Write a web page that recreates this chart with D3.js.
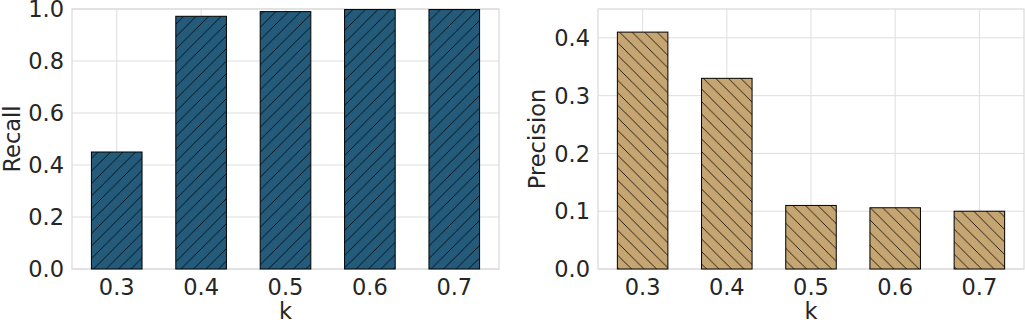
<!DOCTYPE html>
<html>
<head>
<meta charset="utf-8">
<script src="https://cdn.jsdelivr.net/npm/d3@7"></script>
<style>
  body { margin: 0; background: #fff; }
  svg { display: block; font-family: "DejaVu Sans", sans-serif; }
</style>
</head>
<body>
<script>
'use strict';

const kValues = ['0.3', '0.4', '0.5', '0.6', '0.7']
const recall = [0.45, 0.972, 0.99, 0.998, 0.998]
const precision = [0.41, 0.33, 0.11, 0.106, 0.10]
const recallTicks = [0, 0.2, 0.4, 0.6, 0.8, 1.0]
const precisionTicks = [0, 0.1, 0.2, 0.3, 0.4]

const m = { width: 1025, height: 326, top: 9, bottom: 269 }
const fontSize = '22.5px'

const svg = d3.select('body').append('svg')
  .attr('width', m.width)
  .attr('height', m.height)

const defs = svg.append('defs')

function makeHatch(id, color, forward) {
  const w = 12.5
  const p = defs.append('pattern')
    .attr('id', id)
    .attr('patternUnits', 'userSpaceOnUse')
    .attr('width', w)
    .attr('height', w)
  p.append('rect').attr('width', w).attr('height', w).attr('fill', color)
  const d = forward
    ? `M0,${w} L${w},0 M${-w/4},${w/4} L${w/4},${-w/4} M${3*w/4},${5*w/4} L${5*w/4},${3*w/4}`
    : `M0,0 L${w},${w} M${-w/4},${3*w/4} L${w/4},${5*w/4} M${3*w/4},${-w/4} L${5*w/4},${w/4}`
  p.append('path').attr('d', d).attr('stroke', '#000').attr('stroke-width', 0.8)
}

makeHatch('hatchBlue', '#245b7b', true)
makeHatch('hatchTan', '#c5a572', false)

function drawPanel(opts) {
  const g = svg.append('g')

  const xScale = d3.scaleLinear()
    .domain([-0.53, kValues.length - 1 + 0.53])
    .range([opts.left, opts.right])

  const yScale = d3.scaleLinear()
    .domain([0, opts.yMax])
    .range([m.bottom, m.top])

  // grid
  g.append('g').selectAll('line.gy')
    .data(opts.ticks)
    .join('line')
      .attr('x1', opts.left).attr('x2', opts.right)
      .attr('y1', (d) => yScale(d)).attr('y2', (d) => yScale(d))
      .attr('stroke', '#dedede').attr('stroke-width', 1)

  g.append('g').selectAll('line.gx')
    .data(kValues)
    .join('line')
      .attr('x1', (d, i) => xScale(i)).attr('x2', (d, i) => xScale(i))
      .attr('y1', m.top).attr('y2', m.bottom)
      .attr('stroke', '#dedede').attr('stroke-width', 1)

  // frame
  g.append('rect')
    .attr('x', opts.left).attr('y', m.top)
    .attr('width', opts.right - opts.left).attr('height', m.bottom - m.top)
    .attr('fill', 'none').attr('stroke', '#d9d9d9').attr('stroke-width', 1.2)

  // bars
  const bw = xScale(0.6) - xScale(0)
  g.append('g').selectAll('rect')
    .data(opts.values)
    .join('rect')
      .attr('x', (d, i) => xScale(i) - bw / 2)
      .attr('y', (d) => yScale(d))
      .attr('width', bw)
      .attr('height', (d) => yScale(0) - yScale(d))
      .attr('fill', `url(#${opts.hatch})`)
      .attr('stroke', '#000').attr('stroke-width', 1)

  // y tick labels
  g.append('g').selectAll('text')
    .data(opts.ticks)
    .join('text')
      .attr('x', opts.left - 8)
      .attr('y', (d) => yScale(d))
      .attr('dy', '0.36em')
      .attr('text-anchor', 'end')
      .attr('fill', '#262626')
      .style('font-size', fontSize)
      .text((d) => d.toFixed(1))

  // x tick labels
  g.append('g').selectAll('text')
    .data(kValues)
    .join('text')
      .attr('x', (d, i) => xScale(i))
      .attr('y', 295)
      .attr('text-anchor', 'middle')
      .attr('fill', '#262626')
      .style('font-size', fontSize)
      .text((d) => d)

  g.append('text')
    .attr('x', (opts.left + opts.right) / 2)
    .attr('y', 319)
    .attr('text-anchor', 'middle')
    .attr('fill', '#262626')
    .style('font-size', fontSize)
    .text('k')

  g.append('text')
    .attr('transform', `translate(${opts.labelX}, ${(m.top + m.bottom) / 2})rotate(-90)`)
    .attr('text-anchor', 'middle')
    .attr('fill', '#262626')
    .style('font-size', fontSize)
    .text(opts.label)
}

drawPanel({ left: 72, right: 499, values: recall, ticks: recallTicks, yMax: 1.0,
  hatch: 'hatchBlue', label: 'Recall', labelX: 19.5 })
drawPanel({ left: 598, right: 1024, values: precision, ticks: precisionTicks, yMax: 0.45,
  hatch: 'hatchTan', label: 'Precision', labelX: 545 })
</script>
</body>
</html>
